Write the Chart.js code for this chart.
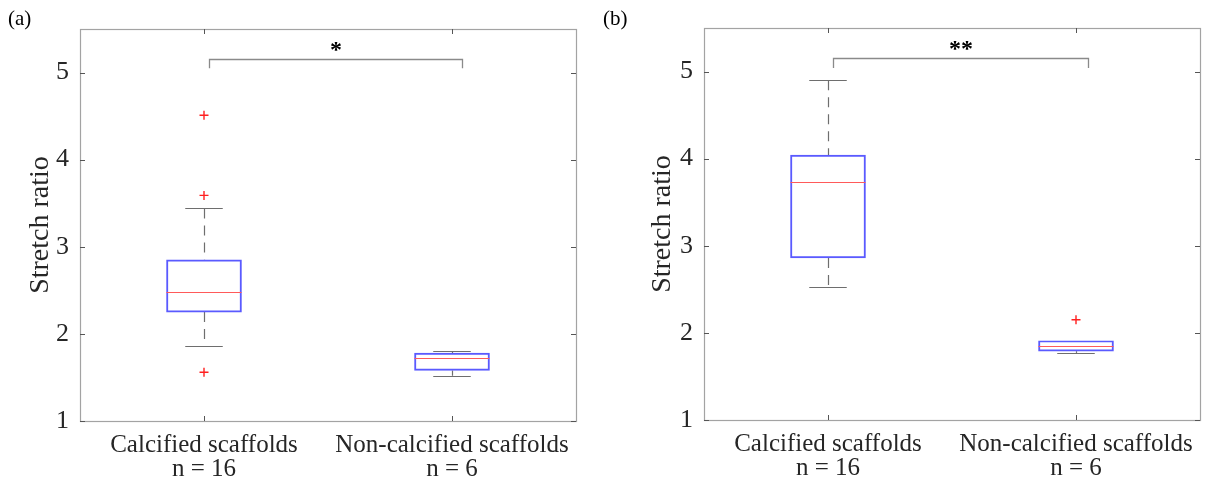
<!DOCTYPE html>
<html><head><meta charset="utf-8">
<script src="https://cdn.jsdelivr.net/npm/chart.js@4.4.1/dist/chart.umd.min.js"></script>
<style>
html,body{margin:0;padding:0;background:#fff;}
#wrap{position:relative;width:1217px;height:485px;background:#fff;}
.panel{position:absolute;top:0;height:485px;}
</style></head><body>
<div id="wrap">
<div class="panel" style="left:0;width:600px"><canvas id="cA"></canvas></div>
<div class="panel" style="left:600px;width:617px"><canvas id="cB"></canvas></div>
</div>
<script>
// ---------- data ----------
const categories = [['Calcified scaffolds', 'n = 16'], ['Non-calcified scaffolds', 'n = 6']];
const yTicks = [1, 2, 3, 4, 5];
const yTitle = 'Stretch ratio';

// panel (a)
const aQ1 = [2.25, 1.58];
const aQ3 = [2.85, 1.78];
const aMedian = [2.48, 1.72];
const aLowWhisker = [1.86, 1.52];
const aHighWhisker = [3.44, 1.805];
const aOutliers = [[4.51, 3.59, 1.56], []];
const aBracketX = [0.02, 1.04];
const aBracketY = [5.15, 5.05];
const aStars = '*';

// panel (b)
const bQ1 = [2.86, 1.79];
const bQ3 = [4.04, 1.91];
const bMedian = [3.73, 1.85];
const bLowWhisker = [2.53, 1.77];
const bHighWhisker = [4.90, 1.91];
const bOutliers = [[], [2.15]];
const bBracketX = [0.02, 1.05];
const bBracketY = [5.15, 5.04];
const bStars = '**';

// ---------- style ----------
const FONT = "'Liberation Serif','Times New Roman',serif";
const TXT = '#262626';

const boxExtras = {
  id: 'boxExtras',
  beforeDatasetsDraw(chart, args, o) {
    const ctx = chart.ctx, y = chart.scales.y;
    const meta = chart.getDatasetMeta(0);
    ctx.save();
    ctx.strokeStyle = '#6e6e6e';
    ctx.lineWidth = 1.2;
    meta.data.forEach((bar, i) => {
      const x = Math.round(bar.x) + 0.5;
      ctx.setLineDash([10, 7]);
      ctx.beginPath();
      ctx.moveTo(x, y.getPixelForValue(o.high[i]));
      ctx.lineTo(x, y.getPixelForValue(o.q3[i]));
      ctx.moveTo(x, y.getPixelForValue(o.q1[i]));
      ctx.lineTo(x, y.getPixelForValue(o.low[i]));
      ctx.stroke();
      ctx.setLineDash([]);
      const hw = bar.width / 4;
      ctx.beginPath();
      [o.high[i], o.low[i]].forEach(v => {
        const py = Math.round(y.getPixelForValue(v)) + 0.5;
        ctx.moveTo(bar.x - hw, py);
        ctx.lineTo(bar.x + hw, py);
      });
      ctx.stroke();
    });
    ctx.restore();
  },
  afterDatasetsDraw(chart, args, o) {
    const ctx = chart.ctx, y = chart.scales.y, xs = chart.scales.x;
    const a = chart.chartArea;
    const meta = chart.getDatasetMeta(0);
    ctx.save();
    // medians
    ctx.strokeStyle = '#ff5a5a';
    ctx.lineWidth = 1.2;
    meta.data.forEach((bar, i) => {
      const py = Math.round(y.getPixelForValue(o.median[i])) + 0.5;
      ctx.beginPath();
      ctx.moveTo(bar.x - bar.width / 2, py);
      ctx.lineTo(bar.x + bar.width / 2, py);
      ctx.stroke();
    });
    // frame
    ctx.strokeStyle = '#a3a3a3';
    ctx.lineWidth = 1.2;
    ctx.strokeRect(Math.round(a.left) + 0.5, Math.round(a.top) + 0.5,
      Math.round(a.right - a.left), Math.round(a.bottom - a.top));
    // inner ticks
    ctx.strokeStyle = '#555';
    ctx.lineWidth = 1;
    ctx.beginPath();
    y.ticks.forEach(t => {
      const py = Math.round(y.getPixelForValue(t.value)) + 0.5;
      ctx.moveTo(a.left, py); ctx.lineTo(a.left + 5, py);
      ctx.moveTo(a.right - 5, py); ctx.lineTo(a.right, py);
    });
    xs.ticks.forEach((t, i) => {
      const px = Math.round(xs.getPixelForValue(i)) + 0.5;
      ctx.moveTo(px, a.bottom); ctx.lineTo(px, a.bottom - 5);
      ctx.moveTo(px, a.top); ctx.lineTo(px, a.top + 5);
    });
    ctx.stroke();
    // significance bracket
    const x0 = Math.round(xs.getPixelForValue(o.bx[0])) + 0.5;
    const x1 = Math.round(xs.getPixelForValue(o.bx[1])) + 0.5;
    const yb = Math.round(y.getPixelForValue(o.by[0])) + 0.5;
    const yt = y.getPixelForValue(o.by[1]);
    ctx.strokeStyle = '#8a8a8a';
    ctx.lineWidth = 1.3;
    ctx.beginPath();
    ctx.moveTo(x0, yt); ctx.lineTo(x0, yb); ctx.lineTo(x1, yb); ctx.lineTo(x1, yt);
    ctx.stroke();
    ctx.fillStyle = '#000';
    ctx.font = 'bold 24px ' + FONT;
    ctx.textAlign = 'center';
    ctx.textBaseline = 'alphabetic';
    ctx.fillText(o.stars, (x0 + x1) / 2, yb - 3);
    // panel label
    ctx.font = '21px ' + FONT;
    ctx.textAlign = 'left';
    ctx.textBaseline = 'alphabetic';
    ctx.fillText(o.letter, o.letterX, 25);
    ctx.restore();
  }
};

function makeChart(id, q1, q3, med, lo, hi, outl, bx, by, stars, letter, letterX, yW, padRight, padTop, xH, titlePad) {
  const outPts = [];
  outl.forEach((arr, i) => arr.forEach(v => outPts.push({ x: categories[i], y: v })));
  return new Chart(document.getElementById(id), {
    type: 'bar',
    data: {
      labels: categories,
      datasets: [
        {
          type: 'bar',
          data: q1.map((v, i) => [v, q3[i]]),
          backgroundColor: 'rgba(0,0,0,0)',
          borderColor: '#5a5aff',
          borderWidth: 1.3,
          borderSkipped: false,
          barThickness: 75,
          grouped: false
        },
        {
          type: 'scatter',
          data: outPts,
          pointStyle: 'cross',
          radius: 4.5,
          borderColor: '#ff2020',
          borderWidth: 1.4,
          backgroundColor: '#ff2020'
        }
      ]
    },
    options: {
      responsive: true,
      maintainAspectRatio: false,
      animation: false,
      events: [],
      layout: { padding: { left: 0, right: padRight, top: padTop, bottom: 0 } },
      plugins: {
        legend: { display: false },
        tooltip: { enabled: false },
        boxExtras: { q1, q3, median: med, low: lo, high: hi, bx, by, stars, letter, letterX }
      },
      scales: {
        x: {
          type: 'category',
          offset: true,
          grid: { display: false, drawTicks: false },
          border: { display: false },
          ticks: { color: TXT, font: { family: FONT, size: 25, lineHeight: 0.98 }, padding: 12, maxRotation: 0, autoSkip: false },
          afterFit(s) { s.height = xH; }
        },
        y: {
          type: 'linear',
          min: 1, max: 5.5,
          grid: { display: false, drawTicks: false },
          border: { display: false },
          afterBuildTicks(s) { s.ticks = yTicks.map(v => ({ value: v })); },
          ticks: { color: TXT, font: { family: FONT, size: 26 }, padding: 11 },
          title: { display: true, text: yTitle, color: TXT, font: { family: FONT, size: 28, lineHeight: 1.2 }, padding: { top: titlePad, bottom: 0 } },
          afterFit(s) { s.width = yW; }
        }
      }
    },
    plugins: [boxExtras]
  });
}

makeChart('cA', aQ1, aQ3, aMedian, aLowWhisker, aHighWhisker, aOutliers, aBracketX, aBracketY, aStars, '(a)', 8, 80, 24, 29, 64, 24);
makeChart('cB', bQ1, bQ3, bMedian, bLowWhisker, bHighWhisker, bOutliers, bBracketX, bBracketY, bStars, '(b)', 3, 104, 17, 28, 65, 46);
</script>
</body></html>
